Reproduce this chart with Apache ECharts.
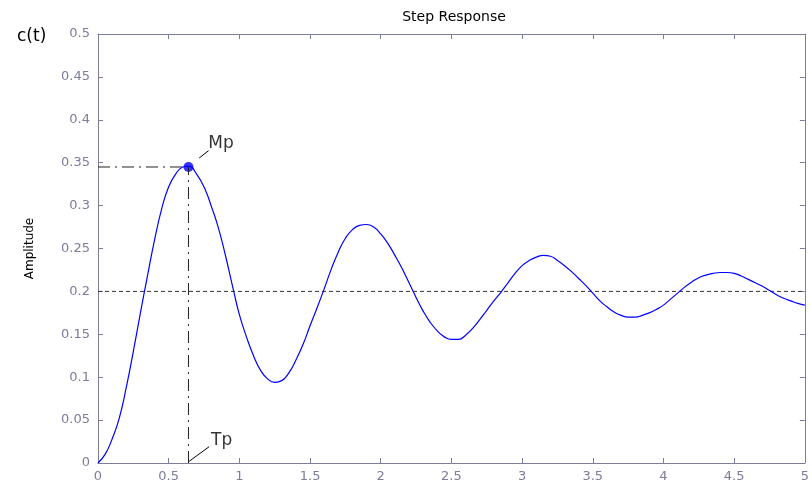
<!DOCTYPE html>
<html>
<head>
<meta charset="utf-8">
<script src="https://cdn.jsdelivr.net/npm/echarts@6/dist/echarts.min.js"></script>
<style>
html, body { margin: 0; padding: 0; background: #fff; }
#main { width: 812px; height: 485px; }
</style>
</head>
<body>
<div id="main"></div>
<script>
// step response (every 0.05 s, plus the peak)
var tValues = [0, 0.05, 0.1, 0.15, 0.2, 0.25, 0.3, 0.35, 0.4, 0.45, 0.5, 0.55, 0.6, 0.64, 0.7, 0.76, 0.8, 0.85, 0.9, 0.96,
	1.0, 1.05, 1.1, 1.15, 1.2, 1.25, 1.3, 1.35, 1.4, 1.45, 1.5, 1.55, 1.6, 1.65, 1.7, 1.75, 1.8, 1.85, 1.9, 1.95,
	2.0, 2.05, 2.1, 2.15, 2.2, 2.25, 2.3, 2.35, 2.4, 2.45, 2.5, 2.55, 2.6, 2.65, 2.7, 2.75, 2.8, 2.85, 2.9, 2.95,
	3.0, 3.05, 3.1, 3.15, 3.2, 3.25, 3.3, 3.35, 3.4, 3.45, 3.5, 3.55, 3.6, 3.65, 3.7, 3.75, 3.8, 3.85, 3.9, 3.95,
	4.0, 4.05, 4.1, 4.15, 4.2, 4.25, 4.3, 4.35, 4.4, 4.45, 4.5, 4.55, 4.6, 4.65, 4.7, 4.75, 4.8, 4.85, 4.9, 4.95, 5.0];
var cValues = [0, 0.010, 0.028, 0.052, 0.088, 0.130, 0.175, 0.218, 0.260, 0.296, 0.322, 0.337, 0.345, 0.346, 0.336, 0.318, 0.300, 0.275, 0.243, 0.200,
	0.173, 0.147, 0.125, 0.108, 0.098, 0.094, 0.096, 0.105, 0.120, 0.138, 0.160, 0.181, 0.203, 0.226, 0.246, 0.262, 0.272, 0.277, 0.278, 0.275,
	0.267, 0.256, 0.242, 0.227, 0.210, 0.193, 0.177, 0.164, 0.154, 0.147, 0.144, 0.144, 0.149, 0.157, 0.167, 0.178, 0.189, 0.199, 0.210, 0.221,
	0.230, 0.236, 0.240, 0.242, 0.241, 0.236, 0.230, 0.223, 0.215, 0.207, 0.198, 0.189, 0.182, 0.176, 0.172, 0.170, 0.170, 0.172, 0.175, 0.179,
	0.184, 0.191, 0.198, 0.205, 0.211, 0.216, 0.219, 0.221, 0.222, 0.222, 0.221, 0.218, 0.214, 0.210, 0.206, 0.201, 0.196, 0.192, 0.189, 0.186, 0.184];

var peakTime = 0.64;
var peakValue = 0.345;
var finalValue = 0.2;
var tRange = [0, 5];
var cRange = [0, 0.5];

// annotation leaders (data units)
var mpLeader = [[0.716, 0.3555], [0.782, 0.364]];
var mpLabelAt = [0.78, 0.372];
var tpLeader = [[0.645, 0.002], [0.786, 0.019]];
var tpLabelAt = [0.80, 0.026];

var curve = [];
for (var i = 0; i < tValues.length; i++) {
	curve.push([tValues[i], cValues[i]]);
}

var axisColor = '#7c7c9c';
var tickFont = 'DejaVu Sans';
var chart = echarts.init(document.getElementById('main'));
var option = {
	animation: false,
	backgroundColor: '#fff',
	textStyle: { fontFamily: tickFont },
	grid: { left: 98, right: 2, top: 34, bottom: 22 },
	graphic: [
		{ type: 'text', x: 454, y: 17, style: { text: 'Step Response', fill: '#000', font: '14px "DejaVu Sans"', textAlign: 'center', textVerticalAlign: 'middle' } },
		{ type: 'text', x: 17, y: 37, style: { text: 'c(t)', fill: '#000', font: '17px "DejaVu Sans"', textAlign: 'left', textVerticalAlign: 'middle' } }
	],
	xAxis: [
		{
			type: 'value', min: tRange[0], max: tRange[1], interval: 0.5,
			axisLine: { onZero: false, lineStyle: { color: axisColor, width: 1 } },
			axisTick: { inside: true, length: 5, lineStyle: { color: axisColor } },
			axisLabel: { color: axisColor, fontSize: 13, margin: 7 },
			splitLine: { show: false }
		},
		{
			type: 'value', position: 'top', min: tRange[0], max: tRange[1], interval: 0.5,
			axisLine: { show: true, onZero: false, lineStyle: { color: axisColor, width: 1 } },
			axisTick: { show: true, inside: true, length: 5, lineStyle: { color: axisColor } },
			axisLabel: { show: false },
			splitLine: { show: false }
		}
	],
	yAxis: [
		{
			type: 'value', min: cRange[0], max: cRange[1], interval: 0.05,
			name: 'Amplitude', nameLocation: 'middle', nameRotate: 90, nameGap: 62,
			nameTextStyle: { color: '#000', fontSize: 12, fontFamily: tickFont },
			axisLine: { onZero: false, lineStyle: { color: axisColor, width: 1 } },
			axisTick: { inside: true, length: 5, lineStyle: { color: axisColor } },
			axisLabel: { color: axisColor, fontSize: 13, margin: 8 },
			splitLine: { show: false }
		},
		{
			type: 'value', position: 'right', min: cRange[0], max: cRange[1], interval: 0.05,
			axisLine: { show: true, onZero: false, lineStyle: { color: axisColor, width: 1 } },
			axisTick: { show: true, inside: true, length: 5, lineStyle: { color: axisColor } },
			axisLabel: { show: false },
			splitLine: { show: false }
		}
	],
	series: [
		{
			name: 'final', type: 'line', symbol: 'none', silent: true,
			data: [[tRange[0], finalValue], [tRange[1], finalValue]],
			lineStyle: { color: '#333', width: 1, type: [4, 3] }
		},
		{
			name: 'mpH', type: 'line', symbol: 'none', silent: true,
			data: [[tRange[0], peakValue], [peakTime, peakValue]],
			lineStyle: { color: '#222', width: 1, type: [12, 5, 2, 5] }
		},
		{
			name: 'tpV', type: 'line', symbol: 'none', silent: true,
			data: [[peakTime, cRange[0]], [peakTime, peakValue]],
			lineStyle: { color: '#222', width: 1, type: [12, 5, 2, 5] }
		},
		{
			name: 'c(t)', type: 'line', symbol: 'none', smooth: true,
			data: curve,
			lineStyle: { color: '#0000ff', width: 1.2 }
		},
		{
			name: 'peak', type: 'scatter', symbolSize: 10,
			data: [[peakTime, peakValue]],
			itemStyle: { color: '#0000ff' }
		},
		{
			name: 'mpLeader', type: 'line', symbol: 'none', data: mpLeader,
			lineStyle: { color: '#000', width: 1 }
		},
		{
			name: 'tpLeader', type: 'line', symbol: 'none', data: tpLeader,
			lineStyle: { color: '#000', width: 1 }
		},
		{
			name: 'labels', type: 'scatter', symbolSize: 0,
			data: [
				{ value: mpLabelAt, label: { formatter: 'Mp' } },
				{ value: tpLabelAt, label: { formatter: 'Tp' } }
			],
			label: { show: true, position: 'right', distance: 0, color: '#000', fontSize: 17, fontFamily: tickFont }
		}
	]
};
chart.setOption(option);
</script>
</body>
</html>
